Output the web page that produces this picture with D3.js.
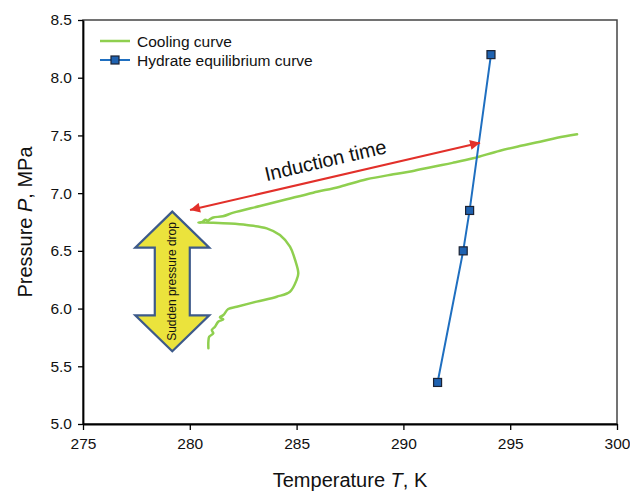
<!DOCTYPE html>
<html>
<head>
<meta charset="utf-8">
<script src="https://cdn.jsdelivr.net/npm/d3@7"></script>
<style>
  html, body { margin: 0; padding: 0; background: #fff; }
  svg { display: block; font-family: "Liberation Sans", Arial, sans-serif; }
</style>
</head>
<body>
<svg id="chart" width="630" height="491"></svg>
<script>
// Axis ticks
const tempTicks = [275, 280, 285, 290, 295, 300];
const pressureTicks = [5.0, 5.5, 6.0, 6.5, 7.0, 7.5, 8.0, 8.5];

// Cooling curve (temperature K, pressure MPa), in time order
const coolingT = [298.13, 297.2, 296.4, 295.5, 294.52, 293.27, 292.3, 291.4, 290.4, 289.53,
  288.28, 287.03, 285.78, 284.54, 283.29, 282.04, 281.55, 281.1, 280.95, 280.85,
  280.72, 280.6, 280.4, 280.71, 281.1, 281.88, 282.66, 283.6, 284.22, 284.69,
  284.93, 285.08, 285.0, 284.69, 284.07, 283.13, 282.2, 281.8, 281.57, 281.41,
  281.57, 281.33, 281.18, 281.03, 281.1, 280.91, 280.87, 280.87];
const coolingP = [7.51, 7.48, 7.445, 7.41, 7.368, 7.302, 7.262, 7.229, 7.19, 7.163,
  7.12, 7.056, 7.004, 6.947, 6.889, 6.831, 6.8, 6.789, 6.775, 6.762,
  6.77, 6.752, 6.744, 6.746, 6.744, 6.737, 6.724, 6.695, 6.637, 6.536,
  6.421, 6.306, 6.248, 6.146, 6.103, 6.06, 6.016, 5.996, 5.944, 5.924,
  5.907, 5.886, 5.843, 5.814, 5.786, 5.756, 5.713, 5.656];

// Hydrate equilibrium curve
const hydrateT = [291.6, 292.8, 293.1, 294.1];
const hydrateP = [5.36, 6.5, 6.85, 8.2];

// Annotations (data units)
const inductionFrom = [293.59, 7.437];
const inductionTo = [280.01, 6.854];
const inductionLabel = [286.35, 7.285];
const dropCenterT = 279.18;
const dropTopP = 6.84;
const dropBottomP = 5.63;

const svg = d3.select("#chart");
const margin = { left: 83, right: 13, top: 20, bottom: 67 };
const W = 630, H = 491;

const x = d3.scaleLinear().domain([275, 300]).range([margin.left, W - margin.right]);
const y = d3.scaleLinear().domain([5.0, 8.5]).range([H - margin.bottom, margin.top]);

const green = "#8fcf4f";
const blue = "#1f6fc0";
const red = "#e2302a";

// Frame
svg.append("rect")
  .attr("x", x(275)).attr("y", y(8.5))
  .attr("width", x(300) - x(275)).attr("height", y(5.0) - y(8.5))
  .attr("fill", "none").attr("stroke", "#444").attr("stroke-width", 1.5);

// Axes
const xAxis = svg.append("g")
  .attr("transform", `translate(0,${y(5.0)})`)
  .call(d3.axisBottom(x).tickValues(tempTicks).tickFormat(d3.format("d")).tickSize(6).tickSizeOuter(0));
const yAxis = svg.append("g")
  .attr("transform", `translate(${x(275)},0)`)
  .call(d3.axisLeft(y).tickValues(pressureTicks).tickFormat(d3.format(".1f")).tickSize(5).tickSizeOuter(0));

[xAxis, yAxis].forEach(g => {
  g.select(".domain").attr("stroke", "#000").attr("stroke-width", 1.8);
  g.selectAll(".tick line").attr("stroke", "#000").attr("stroke-width", 1.3);
  g.selectAll(".tick text").attr("fill", "#111").attr("font-size", "15.5px")
    .attr("font-family", "'Liberation Sans', Arial, sans-serif");
});
xAxis.selectAll(".tick text").attr("dy", "1.05em");
yAxis.selectAll(".tick text").attr("x", -11);

// Axis titles
const xTitle = svg.append("text")
  .attr("x", (x(275) + x(300)) / 2).attr("y", 487)
  .attr("text-anchor", "middle").attr("font-size", "20px").attr("fill", "#111");
xTitle.append("tspan").text("Temperature ");
xTitle.append("tspan").attr("font-style", "italic").text("T");
xTitle.append("tspan").text(", K");

const yTitle = svg.append("text")
  .attr("transform", `translate(32,${(y(5.0) + y(8.5)) / 2}) rotate(-90)`)
  .attr("text-anchor", "middle").attr("font-size", "20px").attr("fill", "#111");
yTitle.append("tspan").text("Pressure ");
yTitle.append("tspan").attr("font-style", "italic").text("P");
yTitle.append("tspan").text(", MPa");

// Cooling curve
const cooling = coolingT.map((t, i) => [t, coolingP[i]]);
svg.append("path")
  .datum(cooling)
  .attr("fill", "none").attr("stroke", green).attr("stroke-width", 2.5)
  .attr("stroke-linejoin", "round").attr("stroke-linecap", "round")
  .attr("d", d3.line().x(d => x(d[0])).y(d => y(d[1])).curve(d3.curveCatmullRom.alpha(0.5)));

// Hydrate equilibrium curve
const hydrate = hydrateT.map((t, i) => [t, hydrateP[i]]);
svg.append("path")
  .datum(hydrate)
  .attr("fill", "none").attr("stroke", blue).attr("stroke-width", 2)
  .attr("d", d3.line().x(d => x(d[0])).y(d => y(d[1])));
svg.selectAll("rect.hyd")
  .data(hydrate).enter().append("rect")
  .attr("class", "hyd")
  .attr("x", d => x(d[0]) - 4).attr("y", d => y(d[1]) - 4)
  .attr("width", 8).attr("height", 8)
  .attr("fill", "#1f62b0").attr("stroke", "#1b2233").attr("stroke-width", 1.2);

// Induction time double arrow
const defs = svg.append("defs");
defs.append("marker")
  .attr("id", "redHead").attr("viewBox", "0 0 10 10")
  .attr("refX", 10).attr("refY", 5)
  .attr("markerWidth", 6).attr("markerHeight", 5)
  .attr("markerUnits", "strokeWidth")
  .attr("orient", "auto-start-reverse")
  .append("path").attr("d", "M0,0 L10,5 L0,10 z").attr("fill", red);

const ax1 = x(inductionFrom[0]), ay1 = y(inductionFrom[1]);
const ax2 = x(inductionTo[0]), ay2 = y(inductionTo[1]);
svg.append("line")
  .attr("x1", ax1).attr("y1", ay1).attr("x2", ax2).attr("y2", ay2)
  .attr("stroke", red).attr("stroke-width", 2)
  .attr("marker-start", "url(#redHead)").attr("marker-end", "url(#redHead)");

const angle = Math.atan2(ay1 - ay2, ax1 - ax2) * 180 / Math.PI;
svg.append("text")
  .attr("transform", `translate(${x(inductionLabel[0])},${y(inductionLabel[1])}) rotate(${angle})`)
  .attr("text-anchor", "middle").attr("dy", "0.35em")
  .attr("font-size", "20px").attr("fill", "#111")
  .text("Induction time");

// Sudden pressure drop block arrow
const cx = x(dropCenterT), yt = y(dropTopP), yb = y(dropBottomP);
const headHalf = 37, shaftHalf = 17.5, headLen = 36;
const arrowPts = [
  [cx, yt], [cx + headHalf, yt + headLen], [cx + shaftHalf, yt + headLen],
  [cx + shaftHalf, yb - headLen], [cx + headHalf, yb - headLen], [cx, yb],
  [cx - headHalf, yb - headLen], [cx - shaftHalf, yb - headLen],
  [cx - shaftHalf, yt + headLen], [cx - headHalf, yt + headLen]
];
svg.append("path")
  .attr("d", d3.line()(arrowPts) + "Z")
  .attr("fill", "#ebe33c").attr("stroke", "#3d5a8a").attr("stroke-width", 2.2)
  .attr("stroke-linejoin", "miter");
svg.append("text")
  .attr("transform", `translate(${cx},${(yt + yb) / 2}) rotate(-90)`)
  .attr("text-anchor", "middle").attr("dy", "0.35em")
  .attr("font-size", "12px").attr("fill", "#111")
  .text("Sudden pressure drop");

// Legend
const legend = svg.append("g");
legend.append("line")
  .attr("x1", 100).attr("x2", 130).attr("y1", 41).attr("y2", 41)
  .attr("stroke", green).attr("stroke-width", 2.5);
legend.append("text").attr("x", 137).attr("y", 46.5)
  .attr("font-size", "15.5px").attr("fill", "#111").text("Cooling curve");
legend.append("line")
  .attr("x1", 100).attr("x2", 130).attr("y1", 60).attr("y2", 60)
  .attr("stroke", blue).attr("stroke-width", 2);
legend.append("rect")
  .attr("x", 111).attr("y", 56).attr("width", 8).attr("height", 8)
  .attr("fill", "#1f62b0").attr("stroke", "#1b2233").attr("stroke-width", 1.2);
legend.append("text").attr("x", 137).attr("y", 65.5)
  .attr("font-size", "15.5px").attr("fill", "#111").text("Hydrate equilibrium curve");
</script>
</body>
</html>
